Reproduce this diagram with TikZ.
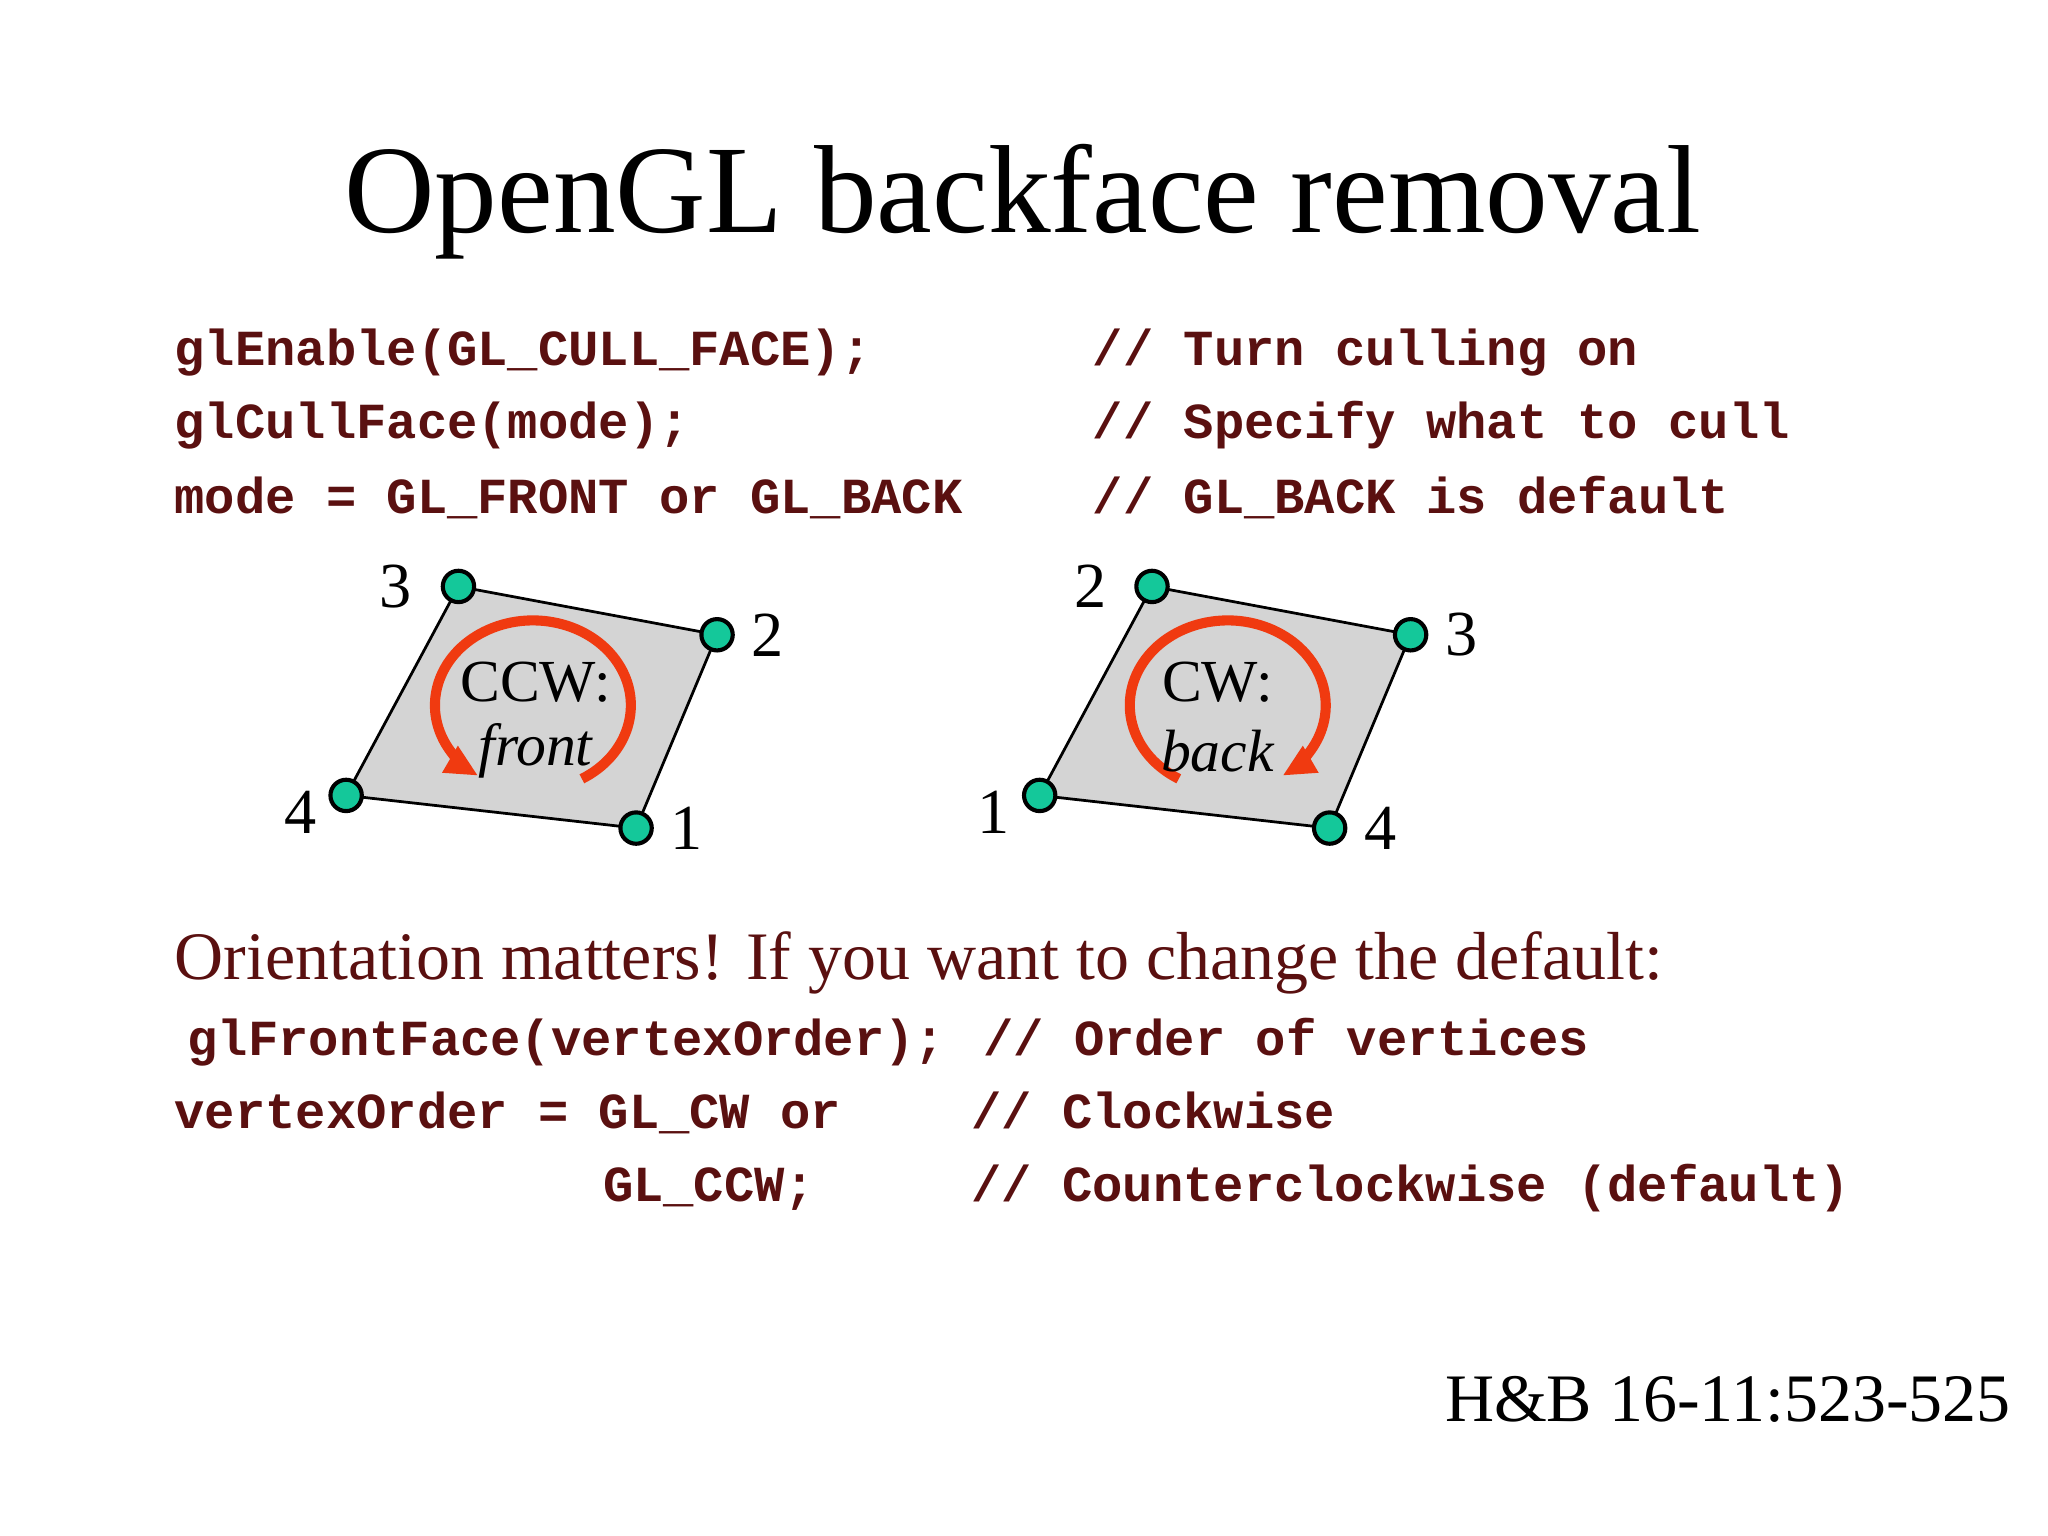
\documentclass[tikz,border=0pt]{standalone}
\usepackage{fontspec}
\setmainfont{Liberation Serif}
\setmonofont{Liberation Mono}
\usetikzlibrary{arrows.meta}
\definecolor{code}{HTML}{5A1010}
\definecolor{vert}{HTML}{14C89A}
\definecolor{arr}{HTML}{F03A10}
\tikzset{
 codetxt/.style={anchor=base west,inner sep=0,text=code,font=\ttfamily\bfseries\fontsize{11}{13}\selectfont},
 vtx/.style={circle,draw=black,fill=vert,line width=0.9pt,minimum size=0.24cm,inner sep=0},
 lbl/.style={font=\fontsize{14}{16}\selectfont,inner sep=0},
 inlbl/.style={font=\fontsize{13}{15}\selectfont,inner sep=0},
 quad/.style={draw=black,fill=black!17,line width=0.6pt},
 turn/.style={draw=arr,line width=2.2pt,-{Triangle[length=0.25cm,width=0.22cm]}},
}
\begin{document}
\begin{tikzpicture}
\useasboundingbox (0,0) rectangle (15.68,-11.76);
\node[anchor=base,inner sep=0,font=\fontsize{27.3}{31}\selectfont] (title) at (7.83,-1.78) {OpenGL backface removal};
\node[codetxt] (c1) at (1.33,-2.80) {glEnable(GL\_CULL\_FACE);};
\node[codetxt] (c2) at (1.33,-3.36) {glCullFace(mode);};
\node[codetxt] (c3) at (1.33,-3.93) {mode = GL\_FRONT or GL\_BACK};
\node[codetxt] (k1) at (8.36,-2.80) {// Turn culling on};
\node[codetxt] (k2) at (8.36,-3.36) {// Specify what to cull};
\node[codetxt] (k3) at (8.36,-3.93) {// GL\_BACK is default};
% left quad
\coordinate (a3) at (3.51,-4.49); \coordinate (a2) at (5.49,-4.86);
\coordinate (a1) at (4.87,-6.34); \coordinate (a4) at (2.65,-6.09);
\draw[quad] (a3)--(a2)--(a1)--(a4)--cycle;
\node[vtx] (va3) at (a3) {}; \node[vtx] (va2) at (a2) {};
\node[vtx] (va1) at (a1) {}; \node[vtx] (va4) at (a4) {};
\node[lbl] (la3) at (3.03,-4.49) {3}; \node[lbl] (la2) at (5.88,-4.86) {2};
\node[lbl] (la1) at (5.26,-6.34) {1}; \node[lbl] (la4) at (2.30,-6.22) {4};
\draw[turn] (4.08,-5.40) ++(-60:0.75 and 0.65) arc[start angle=-60,end angle=236,x radius=0.75,y radius=0.65];
\node[inlbl] (ccw) at (4.10,-5.22) {CCW:};
\node[inlbl,font=\fontsize{13}{15}\selectfont\itshape] (front) at (4.10,-5.75) {front};
% right quad
\coordinate (b2) at (8.82,-4.49); \coordinate (b3) at (10.80,-4.86);
\coordinate (b4) at (10.18,-6.34); \coordinate (b1) at (7.96,-6.09);
\draw[quad] (b2)--(b3)--(b4)--(b1)--cycle;
\node[vtx] (vb2) at (b2) {}; \node[vtx] (vb3) at (b3) {};
\node[vtx] (vb4) at (b4) {}; \node[vtx] (vb1) at (b1) {};
\node[lbl] (lb2) at (8.35,-4.49) {2}; \node[lbl] (lb3) at (11.19,-4.86) {3};
\node[lbl] (lb4) at (10.57,-6.34) {4}; \node[lbl] (lb1) at (7.61,-6.22) {1};
\draw[turn] (9.40,-5.40) ++(240:0.75 and 0.65) arc[start angle=240,end angle=-56,x radius=0.75,y radius=0.65];
\node[inlbl] (cw) at (9.32,-5.22) {CW:};
\node[inlbl,font=\fontsize{13}{15}\selectfont\itshape] (back) at (9.32,-5.75) {back};
% bottom
\node[anchor=base west,inner sep=0,text=code,font=\fontsize{14.8}{17}\selectfont] (om) at (1.33,-7.50) {Orientation matters! If you want to change the default:};
\node[codetxt] (d1) at (1.43,-8.08) {glFrontFace(vertexOrder);};
\node[codetxt] (e1) at (7.52,-8.08) {// Order of vertices};
\node[codetxt] (d2) at (1.33,-8.64) {vertexOrder = GL\_CW or};
\node[codetxt] (e2) at (7.43,-8.64) {// Clockwise};
\node[codetxt] (d3) at (4.61,-9.20) {GL\_CCW;};
\node[codetxt] (e3) at (7.43,-9.20) {// Counterclockwise (default)};
\node[anchor=base east,inner sep=0,font=\fontsize{14.8}{17}\selectfont] (hb) at (15.40,-10.88) {H\&B 16-11:523-525};
\end{tikzpicture}
\end{document}
